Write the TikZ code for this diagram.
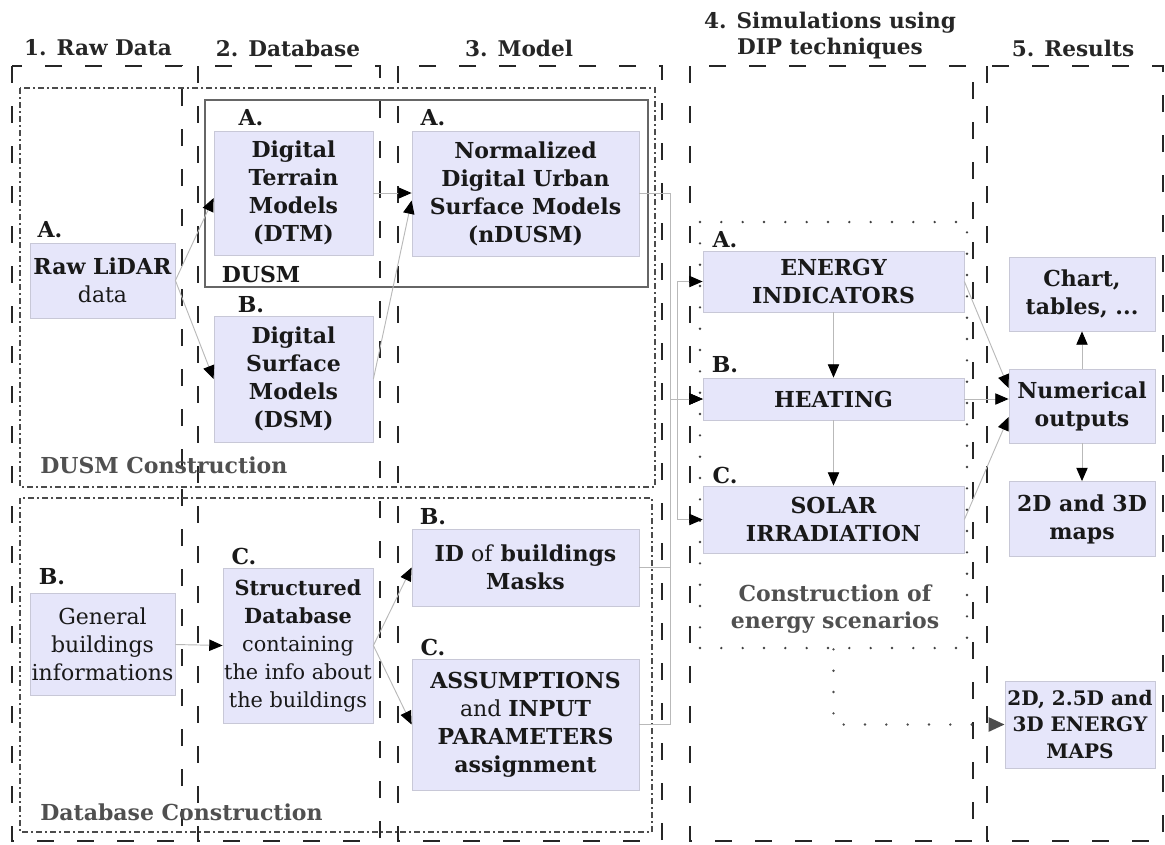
\documentclass[tikz,border=0pt]{standalone}
\usepackage{fontspec}
\setmainfont{DejaVu Serif}
\usetikzlibrary{arrows.meta,calc}
\definecolor{boxfill}{RGB}{230,230,250}
\definecolor{boxline}{RGB}{200,200,215}
\definecolor{linegray}{RGB}{185,185,185}
\definecolor{labgray}{RGB}{80,80,80}
\newcommand\ndfont{\fontsize{16.5}{21}\selectfont}
\newcommand\sdbfont{\fontsize{15.6}{21}\selectfont}
\newcommand\smfont{\fontsize{15}{20}\selectfont}
\newcommand\hdfont{\fontsize{16.2}{19.5}\selectfont\bfseries}
\tikzset{
  sz/.style 2 args={minimum width=#1*0.75pt, minimum height=#2*0.75pt},
  nd/.style={draw=boxline, fill=boxfill, line width=0.6pt, inner sep=0.5pt, align=center, font=\ndfont, text=black!90},
  ndb/.style={nd, font=\ndfont\bfseries},
  lbl/.style={font=\ndfont\bfseries, text=black!90, inner sep=0pt},
  hd/.style={font=\hdfont, align=center, text=black!85, inner sep=0pt},
  glab/.style={font=\fontsize{16.5}{20.5}\selectfont\bfseries, text=labgray, align=center, inner sep=0pt},
  conn/.style={draw=linegray, line width=0.7pt, -{Triangle[length=10pt,width=8.5pt,color=black]}},
  colbox/.style={draw=black!85, line width=2.2pt, dash pattern=on 13pt off 17pt},
  rowbox/.style={draw=black!70, line width=1.6pt, dash pattern=on 4.5pt off 2.5pt on 1pt off 2.5pt},
  scenbox/.style={draw=black!75, line width=2pt, line cap=round, dash pattern=on 0pt off 16pt},
  dotarr/.style={draw=black!70, line width=2pt, line cap=round, dash pattern=on 0pt off 16pt, -{Triangle[length=12pt,width=10.5pt,color=black!70]}},
  dusmbox/.style={draw=black!60, line width=1.5pt}
}
\begin{document}
\begin{tikzpicture}[x=0.75pt,y=-0.75pt]
\useasboundingbox (0,0) rectangle (1165,844);

% column boxes
\draw[colbox] (12,66) rectangle (182,841);
\draw[colbox] (198,66) rectangle (380,841);
\draw[colbox] (398,66) rectangle (662,841);
\draw[colbox] (690,66) rectangle (973,841);
\draw[colbox] (987,66) rectangle (1163,841);

% row boxes
\draw[rowbox] (20,88) rectangle (655,487);
\draw[rowbox] (20,498) rectangle (652,832);

% DUSM box
\draw[dusmbox] (205,100) rectangle (648,287);
\node[lbl] at (261,274) {DUSM};

% scenario box
\node[scenbox, sz={267}{426}] (scen) at (833.5,435) {};

% headers
\node[hd] at (98,48) {1. Raw Data};
\node[hd] at (288,48) {2. Database};
\node[hd] at (519,48) {3. Model};
\node[hd] at (830,36) {4. Simulations using\\DIP techniques};
\node[hd] at (1073,48) {5. Results};

% group labels
\node[glab, anchor=west] at (40,465) {DUSM Construction};
\node[glab, anchor=west] at (40,812) {Database Construction};
\node[glab] at (835,609) {Construction of\\energy scenarios};

% nodes
\node[nd, sz={145}{75}] (raw) at (102.5,280.5) {\textbf{Raw LiDAR}\\data};
\node[ndb, sz={159}{124}] (dtm) at (293.5,193) {Digital\\Terrain\\Models\\(DTM)};
\node[ndb, sz={159}{126}] (dsm) at (293.5,379) {Digital\\Surface\\Models\\(DSM)};
\node[ndb, sz={227}{125}] (ndusm) at (525.5,193.5) {Normalized\\Digital Urban\\Surface Models\\(nDUSM)};
\node[nd, sz={145}{102}] (gen) at (102.5,644.5) {General\\buildings\\informations};
\node[nd, sz={150}{155}, font=\sdbfont] (sdb) at (298,645.5) {\textbf{Structured}\\\textbf{Database}\\containing\\the info about\\the buildings};
\node[nd, sz={227}{77}] (idm) at (525.5,567.5) {\textbf{ID} of \textbf{buildings}\\\textbf{Masks}};
\node[nd, sz={227}{131}] (asm) at (525.5,724.5) {\textbf{ASSUMPTIONS}\\and \textbf{INPUT}\\\textbf{PARAMETERS}\\\textbf{assignment}};
\node[ndb, sz={261}{61}] (ener) at (833.5,281.5) {ENERGY\\INDICATORS};
\node[ndb, sz={261}{42}] (heat) at (833.5,399) {HEATING};
\node[ndb, sz={261}{67}] (solar) at (833.5,519.5) {SOLAR\\IRRADIATION};
\node[ndb, sz={146}{74}] (chart) at (1082,294) {Chart,\\tables, ...};
\node[ndb, sz={146}{74}] (numo) at (1082,406) {Numerical\\outputs};
\node[ndb, sz={146}{75}] (maps) at (1082,519) {2D and 3D\\maps};
\node[ndb, sz={150}{87}, font=\smfont\bfseries] (emaps) at (1080,724.5) {2D, 2.5D and\\3D ENERGY\\MAPS};

% letter labels
\node[lbl] at (50,230) {A.};
\node[lbl] at (251,118) {A.};
\node[lbl] at (251,305) {B.};
\node[lbl] at (433,118) {A.};
\node[lbl] at (52,577) {B.};
\node[lbl] at (244,556) {C.};
\node[lbl] at (433,517) {B.};
\node[lbl] at (433,647) {C.};
\node[lbl] at (725,240) {A.};
\node[lbl] at (725,365) {B.};
\node[lbl] at (725,475) {C.};

% connectors
\coordinate (busA) at (670,0);
\coordinate (busB) at (677,0);
\draw[conn] (raw.east) -- ($(dtm.west)+(0,5)$);
\draw[conn] (raw.east) -- (dsm.west);
\draw[conn] (dtm.east) -- (ndusm.west |- dtm.east);
\draw[conn] (dsm.east) -- ($(ndusm.west)+(0,7)$);
\draw[conn] (gen.east) -- (sdb.west);
\draw[conn] (sdb.east) -- (idm.west);
\draw[conn] (sdb.east) -- (asm.west);
\draw[conn] (ndusm.east) -| (busA |- heat.west) -- (heat.west);
\draw[conn] (idm.east) -| (busA |- heat.west) -- (heat.west);
\draw[conn] (asm.east) -| (busA |- heat.west) -- (heat.west);
\draw[conn] (busB |- heat.west) |- (ener.west);
\draw[conn] (busB |- heat.west) |- (solar.west);
\draw[conn] (ener.south) -- (heat.north);
\draw[conn] (heat.south) -- (solar.north);
\draw[conn] (ener.east) -- ($(numo.west)+(0,-18)$);
\draw[conn] (heat.east) -- (heat.east -| numo.west);
\draw[conn] (solar.east) -- ($(numo.west)+(0,11)$);
\draw[conn] (numo.north) -- (chart.south);
\draw[conn] (numo.south) -- (maps.north);
\draw[dotarr] (scen.south) |- (emaps.west);
\end{tikzpicture}
\end{document}
